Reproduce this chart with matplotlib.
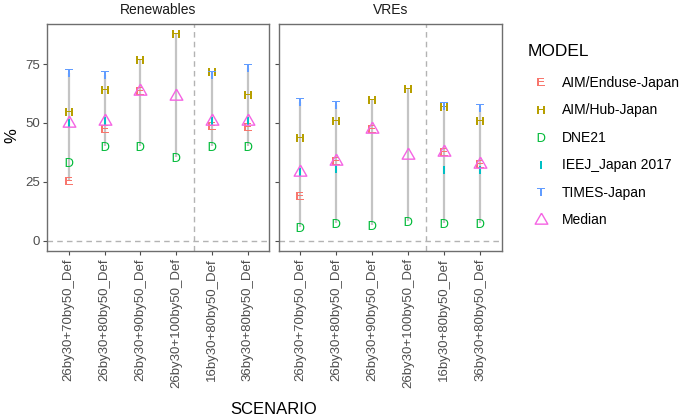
import numpy as np
import matplotlib
matplotlib.use("Agg")
import matplotlib.pyplot as plt
from matplotlib.lines import Line2D

plt.rcParams['font.family'] = ['Liberation Sans', 'DejaVu Sans']
plt.rcParams['mathtext.fontset'] = 'custom'
plt.rcParams['mathtext.rm'] = 'Liberation Sans'

scenarios = ['26by30+70by50_Def', '26by30+80by50_Def', '26by30+90by50_Def',
             '26by30+100by50_Def', '16by30+80by50_Def', '36by30+80by50_Def']
panels = ['Renewables', 'VREs']
models = ['AIM/Enduse-Japan', 'AIM/Hub-Japan', 'DNE21', 'IEEJ_Japan 2017', 'TIMES-Japan']
letters = ['E', 'H', 'D', 'I', 'T']
colors = ['#F8766D', '#B79F00', '#00BA38', '#00BFC4', '#619CFF']
median_color = '#F564E3'
nan = np.nan

# Renewables share (%)
ren_E = [25.5, 47.4, 63.7, nan, 48.7, 48.3]
ren_H = [54.6, 63.8, 76.5, 87.6, 71.7, 61.8]
ren_D = [33.3, 40.1, 40.0, 35.4, 40.0, 40.0]
ren_I = [50.0, 50.9, nan, nan, 50.6, 50.8]
ren_T = [71.2, 70.3, nan, nan, 70.5, 73.5]

# VRE share (%)
vre_E = [19.0, 34.0, 47.2, nan, 37.8, 32.7]
vre_H = [43.8, 50.9, 59.7, 64.3, 56.9, 50.7]
vre_D = [6.0, 7.7, 6.6, 8.4, 7.7, 7.7]
vre_I = [29.3, 30.4, nan, nan, 30.2, 30.2]
vre_T = [58.8, 57.4, nan, nan, 57.3, 56.2]

data = {
    'Renewables': [ren_E, ren_H, ren_D, ren_I, ren_T],
    'VREs': [vre_E, vre_H, vre_D, vre_I, vre_T],
}

# open equilateral triangle like ggplot shape 2
tri = [(0, 0.577), (-0.5, -0.289), (0.5, -0.289), (0, 0.577)]

W, H = 685, 418
fig = plt.figure(figsize=(W / 100, H / 100), dpi=100)
boxes = [(47.3, 24, 269.3, 251), (278.7, 24, 501.7, 251)]
x = np.arange(len(scenarios))
ymax = 87.6

for (x0, y0, x1, y1), name in zip(boxes, panels):
    ax = fig.add_axes([x0 / W, 1 - y1 / H, (x1 - x0) / W, (y1 - y0) / H])
    vals = np.array(data[name], dtype=float)
    lo = np.nanmin(vals, axis=0)
    hi = np.nanmax(vals, axis=0)
    med = np.nanmedian(vals, axis=0)

    ax.axhline(0, color='#b3b3b3', lw=1, ls=(0, (4, 3)), zorder=1)
    ax.axvline(3.5, color='#b3b3b3', lw=1, ls=(0, (4, 3)), zorder=1)
    ax.vlines(x, lo, hi, color='#c4c4c4', lw=1.6, zorder=2)
    for v, l, c in zip(vals, letters, colors):
        ax.plot(x, v, ls='none', marker=r'$\mathrm{%s}$' % l, color=c,
                ms=6.4, mew=0, zorder=3)
    ax.plot(x, med, ls='none', marker=tri, mfc='none', mec=median_color,
            ms=10.5, mew=1, zorder=4)

    ax.set_xlim(-0.6, len(scenarios) - 0.4)
    ax.set_ylim(-0.05 * ymax, 1.05 * ymax)
    ax.set_xticks(x)
    ax.set_xticklabels(scenarios, rotation=90, fontsize=9.5, color='#4d4d4d')
    ax.set_yticks([0, 25, 50, 75])
    if name == panels[0]:
        ax.set_yticklabels(['0', '25', '50', '75'], fontsize=9.5, color='#4d4d4d')
    else:
        ax.set_yticklabels([])
        ax.tick_params(axis='y', length=0)
    ax.tick_params(length=3, width=0.8, color='#4d4d4d', pad=2)
    for s in ax.spines.values():
        s.set_color('#6e6e6e')
        s.set_linewidth(1)
    fig.text((x0 + x1) / 2 / W, 1 - 10.5 / H, name, ha='center', va='center',
             fontsize=10, color='#1a1a1a')

fig.text(12 / W, 1 - 136 / H, '%', ha='center', va='center', rotation=90, fontsize=12)
fig.text(274 / W, 1 - 409 / H, 'SCENARIO', ha='center', va='center', fontsize=12)
fig.text(528 / W, 1 - 51.5 / H, 'MODEL', ha='left', va='center', fontsize=12.5)

handles = [Line2D([], [], ls='none', marker=r'$\mathrm{%s}$' % l, color=c, ms=6.4, mew=0)
           for l, c in zip(letters, colors)]
handles.append(Line2D([], [], ls='none', marker=tri, mfc='none', mec=median_color,
                      ms=10.5, mew=1))
leg = fig.legend(handles, models + ['Median'], loc='upper left',
                 bbox_to_anchor=(520 / W, 1 - 63.5 / H), frameon=False,
                 fontsize=10, labelspacing=0.97, handlelength=1.2, handletextpad=0.9)

fig.savefig('out.png', dpi=100)
